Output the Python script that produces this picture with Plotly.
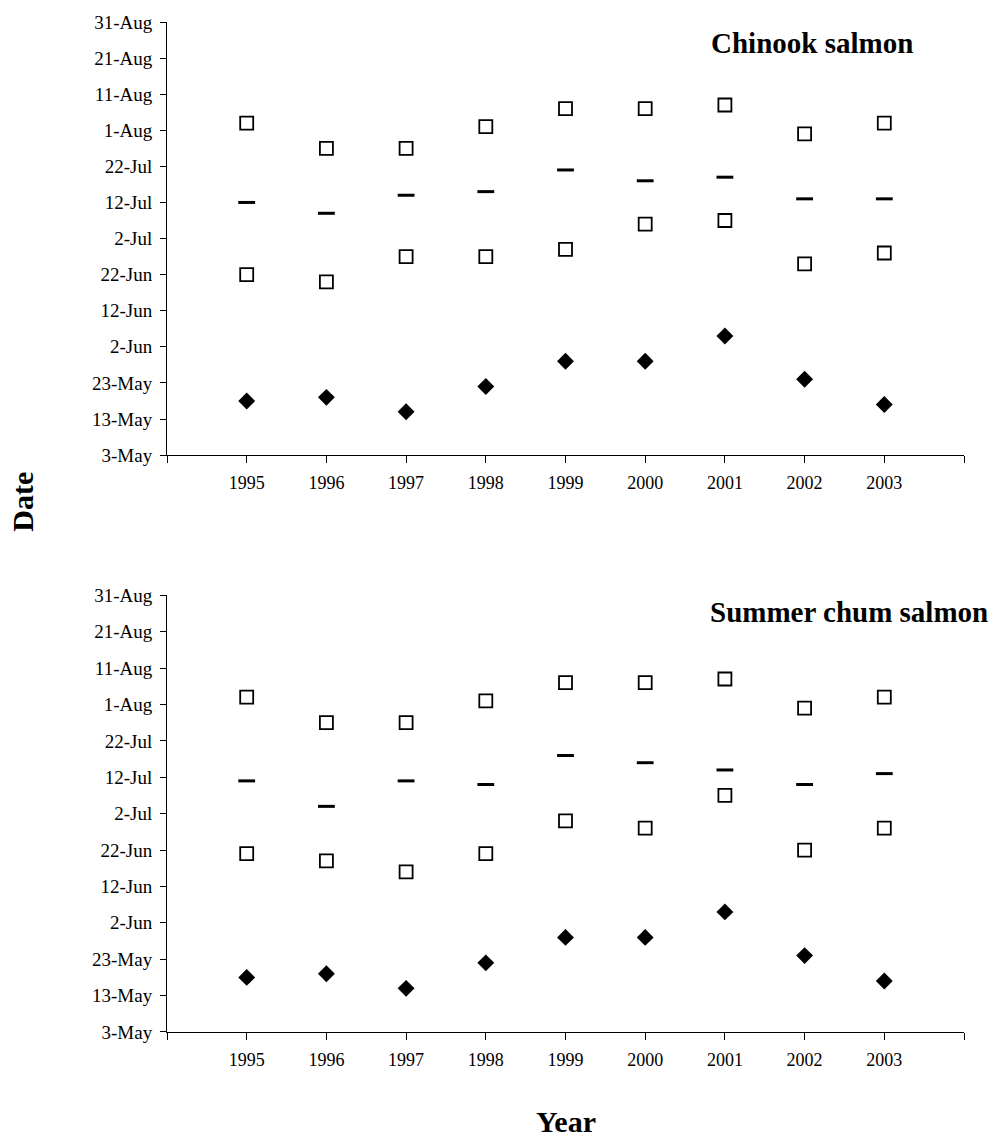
import plotly.graph_objects as go

years = [1995, 1996, 1997, 1998, 1999, 2000, 2001, 2002, 2003]

# Chinook salmon (dates within season, plotted on year 2000 calendar)
chinook_last = ["2000-08-03", "2000-07-27", "2000-07-27", "2000-08-02", "2000-08-07",
                "2000-08-07", "2000-08-08", "2000-07-31", "2000-08-03"]
chinook_mid = ["2000-07-12", "2000-07-09", "2000-07-14", "2000-07-15", "2000-07-21",
               "2000-07-18", "2000-07-19", "2000-07-13", "2000-07-13"]
chinook_first = ["2000-06-22", "2000-06-20", "2000-06-27", "2000-06-27", "2000-06-29",
                 "2000-07-06", "2000-07-07", "2000-06-25", "2000-06-28"]
chinook_breakup = ["2000-05-18", "2000-05-19", "2000-05-15", "2000-05-22", "2000-05-29",
                   "2000-05-29", "2000-06-05", "2000-05-24", "2000-05-17"]

# Summer chum salmon
chum_last = ["2000-08-03", "2000-07-27", "2000-07-27", "2000-08-02", "2000-08-07",
             "2000-08-07", "2000-08-08", "2000-07-31", "2000-08-03"]
chum_mid = ["2000-07-11", "2000-07-04", "2000-07-11", "2000-07-10", "2000-07-18",
            "2000-07-16", "2000-07-14", "2000-07-10", "2000-07-13"]
chum_first = ["2000-06-21", "2000-06-19", "2000-06-16", "2000-06-21", "2000-06-30",
              "2000-06-28", "2000-07-07", "2000-06-22", "2000-06-28"]
chum_breakup = ["2000-05-18", "2000-05-19", "2000-05-15", "2000-05-22", "2000-05-29",
                "2000-05-29", "2000-06-05", "2000-05-24", "2000-05-17"]

x_tickvals = [1994] + years + [2004]
x_ticktext = [""] + [str(y) for y in years] + [""]

FONT = "Liberation Serif"

fig = go.Figure()

square = dict(symbol="square-open", size=13, color="black", line=dict(width=1.8, color="black"))
dash = dict(symbol="line-ew", size=12, color="black", line=dict(width=3, color="black"))
diamond = dict(symbol="diamond", size=13, color="black")

panels = [
    ("x", "y", chinook_last, chinook_mid, chinook_first, chinook_breakup),
    ("x2", "y2", chum_last, chum_mid, chum_first, chum_breakup),
]
for xa, ya, last, mid, first, brk in panels:
    fig.add_trace(go.Scatter(x=years, y=last, mode="markers", marker=square, xaxis=xa, yaxis=ya, showlegend=False))
    fig.add_trace(go.Scatter(x=years, y=mid, mode="markers", marker=dash, xaxis=xa, yaxis=ya, showlegend=False))
    fig.add_trace(go.Scatter(x=years, y=first, mode="markers", marker=square, xaxis=xa, yaxis=ya, showlegend=False))
    fig.add_trace(go.Scatter(x=years, y=brk, mode="markers", marker=diamond, xaxis=xa, yaxis=ya, showlegend=False))

xaxis_common = dict(
    range=[1994, 2004], tickmode="array", tickvals=x_tickvals, ticktext=x_ticktext,
    showgrid=False, zeroline=False, showline=True, linecolor="black", linewidth=1,
    ticks="outside", ticklen=7, tickcolor="black", tickwidth=1,
    tickfont=dict(family=FONT, size=18, color="black"), ticklabelstandoff=4,
)
yaxis_common = dict(
    type="date", range=["2000-05-03", "2000-08-31"], tick0="2000-05-03", dtick=10 * 86400000,
    tickformat="%-d-%b", showgrid=False, zeroline=False, showline=True, linecolor="black",
    linewidth=1, ticks="outside", ticklen=6, tickcolor="black", tickwidth=1,
    tickfont=dict(family=FONT, size=19, color="black"), ticklabelstandoff=4,
)

fig.update_layout(
    width=995, height=1137,
    margin=dict(l=167, r=31, t=16, b=105),
    paper_bgcolor="white", plot_bgcolor="white",
    xaxis=dict(xaxis_common, anchor="y", domain=[0, 1]),
    yaxis=dict(yaxis_common, anchor="x", domain=[0.5712, 1.0]),
    xaxis2=dict(xaxis_common, anchor="y2", domain=[0, 1]),
    yaxis2=dict(yaxis_common, anchor="x2", domain=[0.0, 0.4324]),
    annotations=[
        dict(text="<b>Chinook salmon</b>", xref="paper", yref="y domain", x=0.938, y=0.952,
             xanchor="right", yanchor="middle", showarrow=False,
             font=dict(family=FONT, size=29, color="black")),
        dict(text="<b>Summer chum salmon</b>", xref="paper", yref="y2 domain", x=1.032, y=0.961,
             xanchor="right", yanchor="middle", showarrow=False,
             font=dict(family=FONT, size=29, color="black")),
        dict(text="<b>Date</b>", xref="paper", yref="paper", x=-0.1813, y=0.5246,
             xanchor="center", yanchor="middle", textangle=-90, showarrow=False,
             font=dict(family=FONT, size=30, color="black")),
        dict(text="<b>Year</b>", xref="paper", yref="paper", x=0.5004, y=-0.089,
             xanchor="center", yanchor="middle", showarrow=False,
             font=dict(family=FONT, size=30, color="black")),
    ],
)

fig.write_html("out.html")
